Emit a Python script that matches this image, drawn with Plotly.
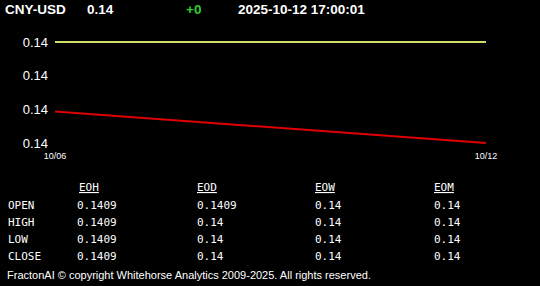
import plotly.graph_objects as go

# ---- data ----
symbol = "CNY-USD"
last_price = "0.14"
change = "+0"
timestamp = "2025-10-12 17:00:01"

dates = ["2025-10-06", "2025-10-12"]
upper_series = [0.1409, 0.1409]
lower_series = [0.14028, 0.14000]

y_ticks = [0.1400, 0.1403, 0.1406, 0.1409]
x_tick_dates = ["2025-10-06", "2025-10-12"]
x_tick_labels = ["10/06", "10/12"]

table_cols = ["EOH", "EOD", "EOW", "EOM"]
table_rows = ["OPEN", "HIGH", "LOW", "CLOSE"]
eoh_vals = ["0.1409", "0.1409", "0.1409", "0.1409"]
eod_vals = ["0.1409", "0.14", "0.14", "0.14"]
eow_vals = ["0.14", "0.14", "0.14", "0.14"]
eom_vals = ["0.14", "0.14", "0.14", "0.14"]
footer = "FractonAI \u00a9 copyright Whitehorse Analytics 2009-2025. All rights reserved."

# ---- layout geometry ----
W, H = 540, 286
L, R, T, B = 55, 54, 36, 137
pw, ph = W - L - R, H - T - B

def px(x):
    return (x - L) / pw

def py(y):
    return (H - B - y) / ph

unit = 0.0009 / 101
y_range = [0.1400 - 6 * unit, 0.1409 + 6 * unit]

fig = go.Figure()
fig.add_trace(go.Scatter(x=dates, y=upper_series, mode="lines",
                         line=dict(color="#cfdc6a", width=2), hoverinfo="skip"))
fig.add_trace(go.Scatter(x=dates, y=lower_series, mode="lines",
                         line=dict(color="#e00000", width=2), hoverinfo="skip"))

ann = []
hdr_font = dict(family="Liberation Sans, Arial", size=13.5, color="white")
def add(text, x, y, font, xanchor="left"):
    ann.append(dict(text=text, x=px(x), y=py(y), xref="paper", yref="paper",
                    xanchor=xanchor, yanchor="middle", showarrow=False, font=font))

add("<b>%s</b>" % symbol, 3, 9, hdr_font)
add("<b>%s</b>" % last_price, 85, 9, hdr_font)
add("<b>%s</b>" % change, 184, 9, dict(hdr_font, color="#33cc33"))
add("<b>%s</b>" % timestamp, 236, 9, hdr_font)

mono = dict(family="DejaVu Sans Mono, Liberation Mono, monospace", size=11, color="white")
row_y = [205, 222, 239, 256]
for name, yy in zip(table_rows, row_y):
    add(name, 6, yy, mono)
col_x_hdr = [77, 195, 313, 432]
col_x_val = [75, 195, 313, 432]
for c, hx, vx, vals in zip(table_cols, col_x_hdr, col_x_val,
                           [eoh_vals, eod_vals, eow_vals, eom_vals]):
    add("<u>%s</u>" % c, hx, 188, mono)
    for v, yy in zip(vals, row_y):
        add(v, vx, yy, mono)

add(footer, 5, 275, dict(family="Liberation Sans, Arial", size=11, color="white"))

fig.update_layout(
    width=W, height=H,
    margin=dict(l=L, r=R, t=T, b=B, pad=0),
    paper_bgcolor="black", plot_bgcolor="black",
    showlegend=False,
    annotations=ann,
    xaxis=dict(type="date", range=dates, tickvals=x_tick_dates, ticktext=x_tick_labels,
               showgrid=False, zeroline=False, showline=False, ticks="",
               tickfont=dict(family="Liberation Sans, Arial", size=9, color="white"),
               fixedrange=True),
    yaxis=dict(range=y_range, tickvals=y_ticks, tickformat=".2f",
               showgrid=False, zeroline=False, showline=False, ticks="",
               ticklabelstandoff=6,
               tickfont=dict(family="Liberation Sans, Arial", size=13, color="white"),
               fixedrange=True),
)

fig.write_html("out.html", config=dict(displayModeBar=False))
